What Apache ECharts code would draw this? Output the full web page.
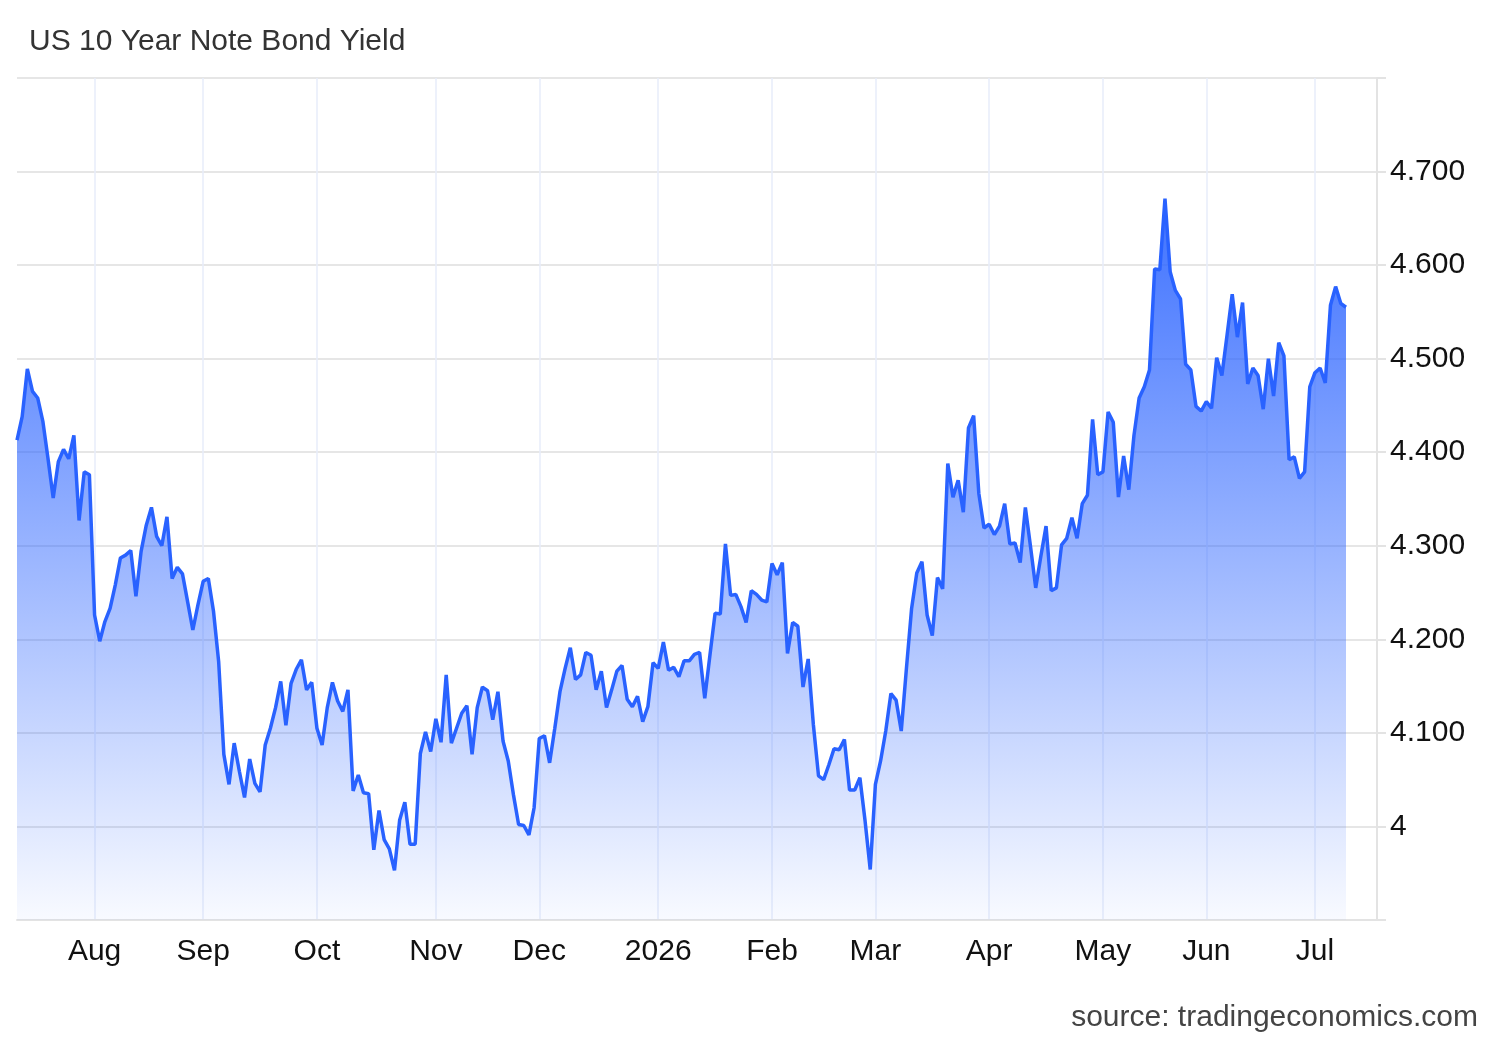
<!DOCTYPE html>
<html>
<head>
<meta charset="utf-8">
<title>US 10 Year Note Bond Yield</title>
<script src="https://cdn.jsdelivr.net/npm/echarts@6/dist/echarts.min.js"></script>
<style>
  html, body { margin: 0; padding: 0; background: #fff; }
  #main { width: 1500px; height: 1040px; }
</style>
</head>
<body>
<div id="main"></div>
<script>
// trading days, first one is 2025-07-11 (weekends and a couple of holidays skipped)
const startDate = '2025-07-11';
const categoryCount = 264;
const holidays = ['2026-05-25', '2026-06-19'];
const monthLabels = ['Jan', 'Feb', 'Mar', 'Apr', 'May', 'Jun', 'Jul', 'Aug', 'Sep', 'Oct', 'Nov', 'Dec'];

// yield, %, one value per trading day
const yields = [
  4.413, 4.438, 4.489, 4.465, 4.458, 4.433, 4.393, 4.351, 4.390, 4.403,
  4.393, 4.418, 4.327, 4.379, 4.376, 4.226, 4.198, 4.219, 4.233, 4.258,
  4.287, 4.290, 4.295, 4.246, 4.294, 4.322, 4.341, 4.310, 4.300, 4.331,
  4.265, 4.277, 4.270, 4.240, 4.210, 4.237, 4.262, 4.265, 4.230, 4.176,
  4.077, 4.045, 4.089, 4.059, 4.031, 4.072, 4.046, 4.037, 4.087, 4.105,
  4.127, 4.155, 4.108, 4.153, 4.168, 4.178, 4.146, 4.154, 4.105, 4.087,
  4.127, 4.154, 4.134, 4.123, 4.146, 4.038, 4.055, 4.036, 4.035, 3.975,
  4.017, 3.986, 3.976, 3.953, 4.007, 4.026, 3.981, 3.981, 4.078, 4.101,
  4.080, 4.115, 4.090, 4.162, 4.089, 4.105, 4.121, 4.129, 4.077, 4.127,
  4.149, 4.145, 4.114, 4.144, 4.091, 4.070, 4.034, 4.002, 4.001, 3.991,
  4.020, 4.094, 4.097, 4.068, 4.105, 4.144, 4.169, 4.191, 4.157, 4.162,
  4.186, 4.183, 4.146, 4.166, 4.127, 4.146, 4.166, 4.172, 4.136, 4.128,
  4.139, 4.112, 4.128, 4.175, 4.169, 4.197, 4.167, 4.170, 4.160, 4.177,
  4.177, 4.184, 4.186, 4.137, 4.183, 4.228, 4.227, 4.302, 4.247, 4.248,
  4.235, 4.218, 4.252, 4.248, 4.242, 4.240, 4.281, 4.269, 4.282, 4.185,
  4.218, 4.214, 4.149, 4.179, 4.109, 4.054, 4.050, 4.066, 4.083, 4.082,
  4.093, 4.039, 4.039, 4.052, 4.006, 3.954, 4.045, 4.070, 4.102, 4.142,
  4.135, 4.102, 4.169, 4.233, 4.271, 4.283, 4.226, 4.204, 4.266, 4.254,
  4.388, 4.352, 4.370, 4.336, 4.426, 4.439, 4.356, 4.319, 4.323, 4.312,
  4.321, 4.345, 4.302, 4.303, 4.282, 4.341, 4.299, 4.255, 4.289, 4.321,
  4.252, 4.255, 4.301, 4.308, 4.330, 4.308, 4.345, 4.354, 4.435, 4.376,
  4.379, 4.443, 4.432, 4.352, 4.396, 4.360, 4.418, 4.458, 4.470, 4.488,
  4.596, 4.595, 4.671, 4.593, 4.573, 4.564, 4.494, 4.488, 4.449, 4.444,
  4.454, 4.447, 4.501, 4.482, 4.525, 4.569, 4.523, 4.560, 4.473, 4.490,
  4.482, 4.446, 4.500, 4.460, 4.517, 4.503, 4.392, 4.395, 4.372, 4.379,
  4.470, 4.485, 4.490, 4.474, 4.557, 4.577, 4.559, 4.555
];

const dates = [];
let day = new Date(startDate + 'T00:00:00Z');
while (dates.length < categoryCount) {
  const iso = day.toISOString().slice(0, 10);
  const wd = day.getUTCDay();
  if (wd !== 0 && wd !== 6 && !holidays.includes(iso)) dates.push(iso);
  day.setUTCDate(day.getUTCDate() + 1);
}

function isMonthStart(i) {
  return i > 0 && dates[i].slice(0, 7) !== dates[i - 1].slice(0, 7);
}

const font = 'Arial, "Liberation Sans", Helvetica, sans-serif';

const chart = echarts.init(document.getElementById('main'));
chart.setOption({
  animation: false,
  backgroundColor: '#fff',
  title: [
    {
      text: 'US 10 Year Note Bond Yield',
      left: 24, top: 22,
      textStyle: { fontFamily: font, fontSize: 30, fontWeight: 'normal', color: '#333' }
    },
    {
      text: 'source: tradingeconomics.com',
      right: 17, top: 998,
      textStyle: { fontFamily: font, fontSize: 30, fontWeight: 'normal', color: '#444' }
    }
  ],
  grid: { left: 17, right: 123, top: 78, bottom: 120, containLabel: false },
  xAxis: {
    type: 'category',
    data: dates,
    boundaryGap: false,
    axisLine: { onZero: false, lineStyle: { color: '#e3e3e3', width: 2 } },
    axisTick: { show: false },
    axisLabel: {
      interval: (i) => isMonthStart(i),
      margin: 17,
      fontFamily: font, fontSize: 30, color: '#111',
      formatter: (v) => {
        const m = +v.slice(5, 7);
        return m === 1 ? v.slice(0, 4) : monthLabels[m - 1];
      }
    },
    splitLine: {
      show: true,
      interval: (i) => isMonthStart(i),
      lineStyle: { color: '#e7ecfa', width: 1.5 }
    }
  },
  yAxis: {
    type: 'value',
    position: 'right',
    min: 3.9, max: 4.8, interval: 0.1,
    axisLine: { show: true, lineStyle: { color: '#e3e3e3', width: 2 } },
    axisTick: { show: true, length: 9, lineStyle: { color: '#e3e3e3', width: 2 } },
    axisLabel: {
      margin: 13,
      fontFamily: font, fontSize: 30, color: '#111',
      formatter: (v) => {
        if (v < 3.95 || v > 4.75) return '';
        return Math.abs(v - 4) < 1e-6 ? '4' : v.toFixed(3);
      }
    },
    splitLine: { lineStyle: { color: '#e6e6e6', width: 2 } }
  },
  series: [{
    type: 'line',
    data: yields,
    showSymbol: false,
    symbol: 'none',
    lineStyle: { color: '#2962ff', width: 3.5 },
    areaStyle: {
      opacity: 1,
      color: new echarts.graphic.LinearGradient(0, 0, 0, 1, [
        { offset: 0, color: 'rgba(41, 98, 255, 0.9)' },
        { offset: 1, color: 'rgba(41, 98, 255, 0.03)' }
      ])
    }
  }]
});
</script>
</body>
</html>
